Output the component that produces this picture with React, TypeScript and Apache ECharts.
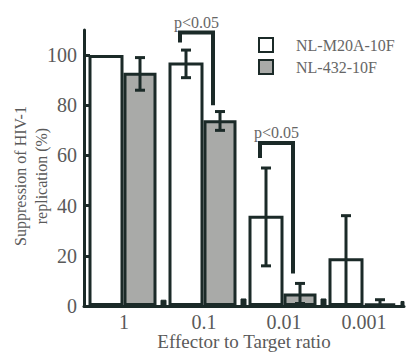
import React, { useEffect, useRef } from "react";
import * as echarts from "echarts";

const categories = ["1", "0.1", "0.01", "0.001"];
const seriesNames = ["NL-M20A-10F", "NL-432-10F"];
const m20aValues = [100, 97, 36, 19];
const m20aLow = [100, 91, 16, 0];
const m20aHigh = [100, 102, 55, 36];
const nl432Values = [93, 74, 5, 1];
const nl432Low = [86, 70, 1, 0];
const nl432High = [99, 77.5, 9, 2.5];
const controlValues = [2.5, 3, 3, 2];
const yTicks = [0, 20, 40, 60, 80, 100];
const bracketCats = [1, 2];
const bracketTop = [109, 65];
const bracketLeftEnd = [105, 59];
const bracketRightEnd = [80, 13];
const pLabels = ["p<0.05", "p<0.05"];

const DARK = "#1b2a28";
const GRAY = "#a9aaa8";
const TEXT = "#5a5a5a";
const FONT = "'Liberation Serif', 'DejaVu Serif', serif";

// bar layout (px)
const LEAD = 7;
const W1 = 35;
const W2 = 33;
const SP = 4;
const WS = 6;
const TOTAL = LEAD + W1 + W2 + SP + WS;
const whiteOff = -TOTAL / 2 + LEAD + W1 / 2;
const grayOff = -TOTAL / 2 + LEAD + W1 + W2 / 2;

function errorSeries(offset: number, low: number[], high: number[]) {
  return {
    type: "custom",
    z: 10,
    silent: true,
    renderItem: (params: any, api: any) => {
      const cat = api.value(0);
      const lo = api.value(1);
      const hi = api.value(2);
      if (hi - lo < 0.01) return { type: "group", children: [] };
      const pLo = api.coord([cat, lo]);
      const pHi = api.coord([cat, hi]);
      const x = pLo[0] + offset;
      const style = { stroke: DARK, lineWidth: 3 };
      const children: any[] = [
        { type: "line", shape: { x1: x, y1: pLo[1], x2: x, y2: pHi[1] }, style },
        { type: "line", shape: { x1: x - 5, y1: pHi[1], x2: x + 5, y2: pHi[1] }, style },
      ];
      if (lo > 0.5) {
        children.push({ type: "line", shape: { x1: x - 5, y1: pLo[1], x2: x + 5, y2: pLo[1] }, style });
      }
      return { type: "group", children };
    },
    encode: { x: 0, y: [1, 2] },
    data: categories.map((_, i) => [i, low[i], high[i]]),
  };
}

export default function App() {
  const ref = useRef<HTMLDivElement>(null);
  useEffect(() => {
    if (!ref.current) return;
    const chart = echarts.init(ref.current, null, { renderer: "svg" });
    const barBase = { type: "bar", barGap: "0%", silent: true };
    chart.setOption({
      animation: false,
      backgroundColor: "#ffffff",
      grid: { left: 84, top: 30, width: 320, height: 276, containLabel: false, outerBoundsMode: "none" },
      legend: {
        data: seriesNames,
        orient: "vertical",
        left: 258,
        top: 37,
        padding: 0,
        itemWidth: 14,
        itemHeight: 14,
        itemGap: 6,
        icon: "rect",
        textStyle: { fontFamily: FONT, fontSize: 16, color: "#666666", padding: [0, 0, 0, 18] },
      },
      xAxis: {
        type: "category",
        data: categories,
        name: "Effector to Target ratio",
        nameLocation: "middle",
        nameGap: 26,
        nameMoveOverlap: false,
        nameTextStyle: { fontFamily: FONT, fontSize: 19, color: TEXT },
        axisLine: { lineStyle: { color: DARK, width: 3 } },
        axisTick: { show: false },
        axisLabel: { fontFamily: FONT, fontSize: 20, color: TEXT, margin: 6 },
      },
      yAxis: {
        type: "value",
        min: 0,
        max: 110,
        interval: 20,
        axisLine: { show: true, lineStyle: { color: DARK, width: 3 } },
        axisTick: { show: true, inside: true, length: 6, lineStyle: { color: DARK, width: 3 }, customValues: yTicks },
        axisLabel: { fontFamily: FONT, fontSize: 20, color: TEXT, margin: 7, customValues: yTicks },
        splitLine: { show: false },
      },
      graphic: [
        {
          type: "text",
          x: 31,
          y: 176,
          rotation: Math.PI / 2,
          style: {
            text: "Suppression of HIV-1\nreplication (%)",
            fill: TEXT,
            font: `16px ${FONT}`,
            lineHeight: 21,
            textAlign: "center",
            textVerticalAlign: "middle",
          },
        },
      ],
      series: [
        { ...barBase, name: "lead", barWidth: LEAD, data: categories.map(() => 0), itemStyle: { color: "transparent", borderWidth: 0 } },
        {
          ...barBase,
          name: seriesNames[0],
          barWidth: W1,
          data: m20aValues,
          itemStyle: { color: "#ffffff", borderColor: DARK, borderWidth: 3 },
        },
        {
          ...barBase,
          name: seriesNames[1],
          barWidth: W2,
          data: nl432Values,
          itemStyle: { color: GRAY, borderColor: DARK, borderWidth: 3 },
        },
        { ...barBase, name: "spacer", barWidth: SP, data: categories.map(() => 0), itemStyle: { color: "transparent", borderWidth: 0 } },
        {
          ...barBase,
          name: "control",
          barWidth: WS,
          data: controlValues,
          itemStyle: { color: DARK, borderColor: DARK, borderWidth: 1 },
        },
        errorSeries(whiteOff, m20aLow, m20aHigh),
        errorSeries(grayOff, nl432Low, nl432High),
        {
          type: "custom",
          z: 11,
          silent: true,
          renderItem: (params: any, api: any) => {
            const cat = api.value(0);
            const top = api.coord([cat, api.value(1)]);
            const lEnd = api.coord([cat, api.value(2)]);
            const rEnd = api.coord([cat, api.value(3)]);
            const xl = top[0] + whiteOff - 6;
            const xr = top[0] + grayOff - 7;
            return {
              type: "group",
              children: [
                {
                  type: "polyline",
                  shape: { points: [[xl, lEnd[1]], [xl, top[1]], [xr, top[1]], [xr, rEnd[1]]] },
                  style: { stroke: DARK, lineWidth: 4, fill: "none" },
                },
                {
                  type: "text",
                  x: (xl + xr) / 2,
                  y: top[1] - 10,
                  style: {
                    text: pLabels[params.dataIndex],
                    fill: "#666666",
                    font: `16px ${FONT}`,
                    textAlign: "center",
                    textVerticalAlign: "middle",
                  },
                },
              ],
            };
          },
          encode: { x: 0, y: [1, 2, 3] },
          data: bracketCats.map((c, i) => [c, bracketTop[i], bracketLeftEnd[i], bracketRightEnd[i]]),
        },
      ],
    });
    return () => chart.dispose();
  }, []);
  return <div ref={ref} style={{ position: "absolute", left: 0, top: 0, width: 406, height: 352 }} />;
}
